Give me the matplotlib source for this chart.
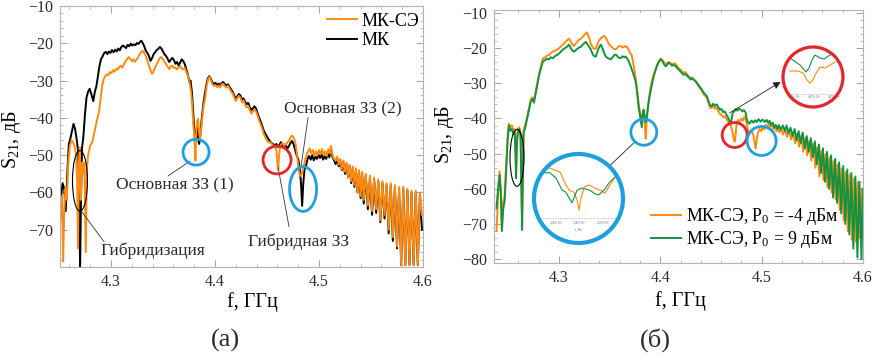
import matplotlib
matplotlib.use("Agg")
import matplotlib.pyplot as plt
from matplotlib.patches import Ellipse, Circle

plt.rcParams['font.family'] = ['Liberation Serif', 'DejaVu Serif']
plt.rcParams['mathtext.fontset'] = 'custom'
plt.rcParams['mathtext.rm'] = 'Liberation Serif'
plt.rcParams['mathtext.it'] = 'Liberation Serif:italic'

ORANGE = '#ff8a10'
GREEN = '#13923f'
BLUE = '#1da0dd'
RED = '#e2262a'

# ---------------- panel (a): MK and MK-SE ----------------
mk_f = [4.2520, 4.2535, 4.2550, 4.2565, 4.2580, 4.2595, 4.2610, 4.2625, 4.2640, 4.2655,
        4.2670, 4.2685, 4.2695, 4.2703, 4.2712, 4.2722, 4.2735, 4.2750, 4.2765, 4.2780,
        4.2795, 4.2810, 4.2830, 4.2845, 4.2860, 4.2875, 4.2890, 4.2905, 4.2920, 4.2935,
        4.2950, 4.2965, 4.2980, 4.2995, 4.3010, 4.3025, 4.3040, 4.3055, 4.3070, 4.3085,
        4.3100, 4.3115, 4.3130, 4.3145, 4.3160, 4.3175, 4.3190, 4.3205, 4.3220, 4.3235,
        4.3250, 4.3265, 4.3280, 4.3292, 4.3305, 4.3320, 4.3335, 4.3350, 4.3365, 4.3380,
        4.3395, 4.3410, 4.3425, 4.3440, 4.3455, 4.3470, 4.3485, 4.3500, 4.3515, 4.3530,
        4.3545, 4.3560, 4.3575, 4.3590, 4.3605, 4.3620, 4.3635, 4.3650, 4.3665, 4.3680,
        4.3695, 4.3710, 4.3725, 4.3740, 4.3755, 4.3765, 4.3778, 4.3790, 4.3800, 4.3810,
        4.3820, 4.3828, 4.3838, 4.3848, 4.3858, 4.3870, 4.3885, 4.3900, 4.3915, 4.3930,
        4.3945, 4.3960, 4.3975, 4.3990, 4.4005, 4.4020, 4.4035, 4.4050, 4.4065, 4.4080,
        4.4095, 4.4110, 4.4125, 4.4140, 4.4155, 4.4170, 4.4185, 4.4200, 4.4215, 4.4230,
        4.4245, 4.4260, 4.4275, 4.4290, 4.4305, 4.4320, 4.4335, 4.4350, 4.4365, 4.4380,
        4.4395, 4.4410, 4.4425, 4.4440, 4.4455, 4.4470, 4.4485, 4.4500, 4.4515, 4.4530,
        4.4545, 4.4560, 4.4575, 4.4590, 4.4605, 4.4620, 4.4635, 4.4650, 4.4665, 4.4680,
        4.4695, 4.4710, 4.4725, 4.4740, 4.4755, 4.4770, 4.4785, 4.4800, 4.4815, 4.4828,
        4.4838, 4.4848, 4.4860, 4.4875, 4.4890, 4.4905, 4.4920, 4.4935, 4.4950, 4.4965,
        4.4980, 4.4995, 4.5010, 4.5025, 4.5040, 4.5055, 4.5070, 4.5085, 4.5100, 4.5115,
        4.5130, 4.5145, 4.5160, 4.5175, 4.5190, 4.5205, 4.5220, 4.5235, 4.5250, 4.5265,
        4.5280, 4.5295, 4.5310, 4.5325, 4.5340, 4.5355, 4.5370, 4.5385, 4.5400, 4.5415,
        4.5430, 4.5450, 4.5470, 4.5490, 4.5510, 4.5530, 4.5550, 4.5570, 4.5590, 4.5610,
        4.5630, 4.5650, 4.5670, 4.5690, 4.5710, 4.5730, 4.5750, 4.5770, 4.5790, 4.5810,
        4.5830, 4.5850, 4.5870, 4.5890, 4.5910, 4.5930, 4.5950, 4.5970, 4.5990]
mk_db = [-61.0, -57.5, -59.0, -65.0, -55.0, -47.0, -45.5, -43.5, -41.6, -43.0,
         -45.7, -49.0, -62.0, -80.5, -62.0, -48.0, -45.0, -39.0, -34.5, -33.0,
         -32.2, -33.5, -35.5, -33.0, -31.5, -28.8, -26.0, -24.2, -23.5, -22.6,
         -22.3, -22.9, -22.2, -22.6, -21.8, -22.4, -21.7, -22.2, -21.4, -21.9,
         -21.0, -20.6, -20.9, -21.3, -20.4, -20.8, -20.1, -20.6, -20.3, -20.5,
         -19.9, -20.2, -19.6, -19.3, -19.9, -20.8, -22.0, -22.6, -23.4, -24.7,
         -24.0, -22.9, -22.4, -21.8, -21.5, -21.0, -21.4, -22.2, -23.0, -23.4,
         -24.2, -25.0, -24.4, -23.9, -24.5, -25.5, -25.0, -26.0, -25.2, -24.3,
         -24.8, -25.6, -27.0, -28.5, -30.4, -30.0, -33.0, -38.0, -43.0, -46.0,
         -44.0, -42.0, -45.7, -47.0, -45.0, -41.0, -37.0, -34.0, -31.5, -29.5,
         -28.8, -29.5, -30.5, -31.0, -30.6, -31.3, -30.8, -31.4, -30.6, -30.4,
         -31.0, -31.4, -31.0, -31.7, -32.4, -33.0, -34.0, -35.0, -34.2, -33.6,
         -34.0, -35.2, -34.8, -35.7, -36.3, -36.0, -37.2, -38.0, -37.4, -36.9,
         -37.5, -38.8, -40.0, -41.0, -42.2, -43.5, -44.3, -45.0, -45.8, -46.3,
         -46.8, -47.0, -47.6, -47.0, -47.8, -47.2, -46.5, -47.5, -48.0, -47.2,
         -48.3, -47.6, -46.8, -46.2, -47.0, -48.5, -50.0, -51.0, -53.5, -58.0,
         -63.6, -58.0, -54.0, -52.9, -51.0, -50.2, -51.2, -50.0, -51.4, -50.4,
         -51.0, -49.8, -50.8, -49.7, -51.2, -50.3, -51.0, -49.5, -50.6, -48.3,
         -50.5, -51.4, -52.4, -51.0, -53.0, -51.8, -54.0, -52.0, -55.0, -52.5,
         -56.0, -53.0, -57.5, -53.5, -58.5, -54.0, -60.0, -54.5, -61.5, -55.0,
         -63.0, -55.5, -64.5, -56.0, -66.0, -56.5, -65.5, -57.0, -68.0, -57.5,
         -67.0, -58.0, -71.0, -58.0, -73.0, -58.5, -75.0, -59.0, -79.5, -59.0,
         -79.5, -59.5, -79.5, -60.0, -79.5, -60.0, -79.5, -60.5, -70.0]

mkse_f = [4.2520, 4.2530, 4.2540, 4.2550, 4.2562, 4.2575, 4.2590, 4.2605, 4.2620, 4.2635,
          4.2650, 4.2665, 4.2675, 4.2683, 4.2692, 4.2700, 4.2710, 4.2720, 4.2730, 4.2745,
          4.2758, 4.2768, 4.2780, 4.2800, 4.2820, 4.2840, 4.2855, 4.2870, 4.2885, 4.2900,
          4.2915, 4.2930, 4.2945, 4.2960, 4.2975, 4.2990, 4.3005, 4.3020, 4.3035, 4.3050,
          4.3065, 4.3080, 4.3095, 4.3110, 4.3125, 4.3140, 4.3155, 4.3170, 4.3185, 4.3200,
          4.3215, 4.3230, 4.3245, 4.3260, 4.3275, 4.3290, 4.3305, 4.3320, 4.3335, 4.3350,
          4.3365, 4.3380, 4.3395, 4.3410, 4.3425, 4.3440, 4.3455, 4.3470, 4.3485, 4.3500,
          4.3515, 4.3530, 4.3545, 4.3560, 4.3575, 4.3590, 4.3605, 4.3620, 4.3635, 4.3650,
          4.3665, 4.3680, 4.3695, 4.3710, 4.3725, 4.3740, 4.3755, 4.3768, 4.3780, 4.3792,
          4.3802, 4.3812, 4.3820, 4.3828, 4.3836, 4.3846, 4.3856, 4.3866, 4.3878, 4.3890,
          4.3905, 4.3920, 4.3935, 4.3948, 4.3962, 4.3975, 4.3990, 4.4005, 4.4020, 4.4035,
          4.4050, 4.4065, 4.4080, 4.4095, 4.4110, 4.4125, 4.4140, 4.4155, 4.4170, 4.4185,
          4.4200, 4.4215, 4.4230, 4.4245, 4.4260, 4.4275, 4.4290, 4.4305, 4.4320, 4.4335,
          4.4350, 4.4365, 4.4380, 4.4395, 4.4410, 4.4425, 4.4440, 4.4455, 4.4470, 4.4485,
          4.4500, 4.4515, 4.4530, 4.4545, 4.4560, 4.4575, 4.4590, 4.4600, 4.4608, 4.4616,
          4.4625, 4.4640, 4.4655, 4.4670, 4.4685, 4.4700, 4.4715, 4.4730, 4.4745, 4.4760,
          4.4775, 4.4790, 4.4805, 4.4820, 4.4835, 4.4850, 4.4865, 4.4880, 4.4895, 4.4910,
          4.4925, 4.4940, 4.4955, 4.4970, 4.4985, 4.5000, 4.5015, 4.5030, 4.5045, 4.5060,
          4.5075, 4.5090, 4.5105, 4.5115, 4.5130, 4.5145, 4.5160, 4.5175, 4.5190, 4.5205,
          4.5220, 4.5235, 4.5250, 4.5265, 4.5280, 4.5295, 4.5310, 4.5325, 4.5340, 4.5355,
          4.5370, 4.5385, 4.5400, 4.5415, 4.5430, 4.5450, 4.5470, 4.5490, 4.5510, 4.5530,
          4.5550, 4.5570, 4.5590, 4.5610, 4.5630, 4.5650, 4.5670, 4.5690, 4.5710, 4.5730,
          4.5750, 4.5770, 4.5790, 4.5810, 4.5830, 4.5850, 4.5870, 4.5890, 4.5910, 4.5930,
          4.5950, 4.5970, 4.5990]
mkse_db = [-67.0, -61.0, -78.5, -66.0, -59.0, -62.0, -52.0, -47.5, -46.0, -46.5,
           -47.5, -50.0, -57.0, -75.0, -52.0, -48.0, -62.0, -52.0, -55.0, -52.0,
           -76.0, -54.0, -50.0, -47.5, -46.5, -44.0, -42.0, -40.0, -38.4, -35.0,
           -31.5, -29.6, -28.8, -28.3, -28.6, -27.7, -28.0, -27.2, -27.6, -26.8,
           -27.1, -26.4, -26.0, -26.5, -25.6, -24.8, -24.2, -23.7, -24.2, -24.8,
           -24.3, -25.0, -24.4, -23.8, -23.0, -22.3, -22.0, -22.6, -23.4, -24.6,
           -26.0, -27.2, -28.2, -27.5, -26.4, -25.6, -24.8, -23.9, -23.7, -24.3,
           -25.0, -25.6, -26.3, -26.9, -26.2, -26.0, -26.7, -26.5, -27.0, -26.5,
           -26.1, -26.8, -27.0, -26.6, -27.7, -28.8, -30.5, -32.6, -36.0, -42.0,
           -45.0, -51.5, -44.0, -41.0, -40.3, -43.0, -45.7, -43.0, -40.0, -37.0,
           -34.8, -31.5, -29.6, -29.0, -30.0, -31.0, -31.4, -31.2, -31.8, -31.3,
           -31.9, -31.0, -30.9, -31.5, -31.9, -31.4, -32.2, -32.9, -33.5, -34.5,
           -35.5, -34.7, -34.1, -34.6, -35.8, -35.3, -36.5, -37.2, -36.8, -38.0,
           -38.9, -38.2, -37.8, -38.3, -39.5, -40.8, -41.8, -43.0, -44.4, -45.3,
           -46.0, -46.6, -46.5, -46.9, -47.4, -47.8, -48.5, -52.0, -54.0, -50.0,
           -47.8, -47.0, -46.8, -47.5, -47.0, -46.5, -46.0, -45.0, -44.8, -45.5,
           -47.0, -50.0, -54.0, -55.6, -55.0, -53.5, -51.5, -50.0, -49.0, -48.2,
           -49.5, -48.6, -50.2, -49.0, -50.0, -48.6, -49.8, -48.4, -50.0, -49.0,
           -50.2, -48.4, -49.6, -47.5, -50.0, -51.0, -51.5, -50.4, -52.6, -51.0,
           -53.8, -51.4, -54.5, -52.0, -56.0, -52.5, -57.0, -53.0, -58.0, -53.5,
           -60.0, -54.0, -61.0, -54.5, -62.0, -55.0, -63.5, -55.5, -65.0, -56.0,
           -64.5, -56.5, -67.5, -57.0, -66.0, -57.5, -70.0, -57.5, -72.0, -58.0,
           -74.5, -58.5, -79.5, -58.5, -79.5, -59.0, -79.5, -59.5, -79.5, -59.5,
           -79.5, -60.0, -66.0]

# ---------------- panel (б): MK-SE at two powers ----------------
p9_f = [4.2385, 4.2400, 4.2415, 4.2428, 4.2438, 4.2450, 4.2465, 4.2480, 4.2495, 4.2507,
        4.2520, 4.2537, 4.2552, 4.2565, 4.2572, 4.2578, 4.2585, 4.2595, 4.2610, 4.2622,
        4.2630, 4.2637, 4.2645, 4.2652, 4.2665, 4.2680, 4.2695, 4.2710, 4.2724, 4.2740,
        4.2754, 4.2770, 4.2785, 4.2803, 4.2820, 4.2842, 4.2860, 4.2880, 4.2901, 4.2920,
        4.2940, 4.2960, 4.2990, 4.3010, 4.3039, 4.3060, 4.3080, 4.3099, 4.3115, 4.3130,
        4.3148, 4.3165, 4.3185, 4.3200, 4.3217, 4.3235, 4.3250, 4.3266, 4.3280, 4.3298,
        4.3315, 4.3330, 4.3345, 4.3365, 4.3380, 4.3395, 4.3414, 4.3430, 4.3445, 4.3463,
        4.3480, 4.3495, 4.3512, 4.3530, 4.3545, 4.3562, 4.3580, 4.3595, 4.3611, 4.3628,
        4.3645, 4.3660, 4.3675, 4.3690, 4.3709, 4.3725, 4.3740, 4.3759, 4.3770, 4.3780,
        4.3790, 4.3800, 4.3810, 4.3818, 4.3826, 4.3835, 4.3845, 4.3855, 4.3865, 4.3877,
        4.3890, 4.3906, 4.3920, 4.3935, 4.3956, 4.3975, 4.3990, 4.4005, 4.4020, 4.4035,
        4.4054, 4.4070, 4.4084, 4.4100, 4.4118, 4.4135, 4.4153, 4.4170, 4.4190, 4.4212,
        4.4230, 4.4250, 4.4265, 4.4281, 4.4300, 4.4315, 4.4335, 4.4350, 4.4370, 4.4390,
        4.4409, 4.4425, 4.4440, 4.4458, 4.4475, 4.4492, 4.4507, 4.4522, 4.4540, 4.4557,
        4.4575, 4.4590, 4.4606, 4.4620, 4.4635, 4.4650, 4.4665, 4.4680, 4.4695, 4.4705,
        4.4715, 4.4730, 4.4745, 4.4760, 4.4775, 4.4793, 4.4810, 4.4825, 4.4842, 4.4852,
        4.4862, 4.4880, 4.4900, 4.4920, 4.4935, 4.4951, 4.4970, 4.4990, 4.5010, 4.5030,
        4.5050, 4.5065, 4.5079, 4.5095, 4.5110, 4.5125, 4.5140, 4.5155, 4.5170, 4.5190,
        4.5210, 4.5230, 4.5246, 4.5265, 4.5285, 4.5305, 4.5325, 4.5345, 4.5365, 4.5385,
        4.5405, 4.5425, 4.5445, 4.5465, 4.5485, 4.5505, 4.5525, 4.5545, 4.5565, 4.5585,
        4.5605, 4.5625, 4.5645, 4.5665, 4.5685, 4.5705, 4.5725, 4.5745, 4.5765, 4.5785,
        4.5805, 4.5825, 4.5845, 4.5865, 4.5885, 4.5905, 4.5925, 4.5945, 4.5965, 4.5985,
        4.6000]
p9_db = [-65.5, -60.0, -56.0, -62.0, -72.0, -66.0, -63.5, -55.0, -46.0, -42.0,
         -43.5, -43.0, -44.5, -44.0, -50.0, -57.0, -48.0, -44.0, -43.0, -45.0,
         -60.0, -71.7, -55.0, -44.0, -43.0, -41.0, -39.0, -37.0, -35.0, -34.5,
         -35.5, -33.0, -30.5, -28.0, -26.0, -23.8, -23.5, -23.0, -23.2, -22.6,
         -22.9, -22.3, -21.8, -21.3, -20.4, -20.0, -19.6, -19.0, -19.8, -20.6,
         -21.0, -20.6, -20.1, -19.8, -19.6, -19.0, -18.6, -18.2, -18.8, -19.6,
         -20.4, -21.5, -22.2, -22.4, -21.0, -19.8, -19.0, -20.0, -21.3, -22.4,
         -22.8, -23.0, -23.2, -22.6, -22.0, -21.8, -22.4, -22.8, -22.8, -22.3,
         -22.6, -22.4, -23.0, -23.8, -25.2, -26.5, -27.8, -29.7, -32.0, -35.0,
         -37.5, -39.0, -41.0, -42.5, -39.0, -37.5, -39.0, -41.0, -40.0, -37.2,
         -34.5, -32.0, -30.0, -28.0, -26.0, -24.5, -23.8, -23.2, -23.6, -24.5,
         -25.2, -24.6, -24.1, -24.5, -25.0, -24.7, -25.2, -25.8, -26.3, -27.0,
         -27.6, -27.3, -27.9, -28.3, -28.9, -28.6, -29.1, -29.4, -30.2, -31.0,
         -31.7, -32.5, -33.0, -33.6, -35.0, -36.3, -36.5, -35.8, -36.4, -36.0,
         -36.9, -37.5, -37.3, -38.2, -38.0, -38.8, -39.5, -40.5, -41.5, -40.0,
         -38.3, -38.0, -37.3, -37.8, -37.2, -37.5, -38.0, -37.6, -38.3, -40.0,
         -41.0, -41.5, -40.6, -41.2, -40.5, -41.0, -40.2, -40.9, -40.3, -41.0,
         -40.4, -41.2, -40.7, -41.8, -41.2, -42.6, -41.8, -43.0, -41.9, -43.2,
         -42.0, -43.6, -42.0, -44.2, -42.6, -45.0, -43.0, -46.2, -43.6, -47.0,
         -44.0, -48.5, -45.0, -49.5, -45.6, -51.0, -46.5, -53.0, -47.4, -55.5,
         -48.5, -58.0, -49.5, -60.0, -50.5, -62.5, -51.5, -64.0, -52.5, -67.0,
         -53.5, -70.0, -54.5, -73.0, -55.5, -77.0, -56.5, -79.5, -58.0, -80.0,
         -60.0]

m4_f = [4.2385, 4.2400, 4.2415, 4.2428, 4.2438, 4.2450, 4.2465, 4.2480, 4.2495, 4.2507,
        4.2520, 4.2537, 4.2552, 4.2565, 4.2572, 4.2578, 4.2585, 4.2595, 4.2610, 4.2622,
        4.2630, 4.2637, 4.2645, 4.2652, 4.2665, 4.2680, 4.2695, 4.2710, 4.2724, 4.2740,
        4.2754, 4.2770, 4.2785, 4.2803, 4.2820, 4.2842, 4.2860, 4.2880, 4.2901, 4.2920,
        4.2940, 4.2960, 4.2990, 4.3010, 4.3039, 4.3060, 4.3080, 4.3099, 4.3115, 4.3130,
        4.3148, 4.3165, 4.3185, 4.3200, 4.3217, 4.3235, 4.3250, 4.3265, 4.3276, 4.3290,
        4.3305, 4.3315, 4.3330, 4.3345, 4.3365, 4.3380, 4.3395, 4.3414, 4.3430, 4.3446,
        4.3463, 4.3480, 4.3495, 4.3512, 4.3530, 4.3545, 4.3562, 4.3580, 4.3595, 4.3611,
        4.3628, 4.3645, 4.3660, 4.3675, 4.3690, 4.3705, 4.3719, 4.3735, 4.3748, 4.3759,
        4.3770, 4.3780, 4.3790, 4.3800, 4.3810, 4.3818, 4.3826, 4.3835, 4.3843, 4.3850,
        4.3857, 4.3864, 4.3877, 4.3890, 4.3906, 4.3920, 4.3935, 4.3956, 4.3975, 4.3990,
        4.4005, 4.4020, 4.4035, 4.4054, 4.4070, 4.4084, 4.4100, 4.4118, 4.4135, 4.4153,
        4.4170, 4.4190, 4.4212, 4.4230, 4.4250, 4.4265, 4.4281, 4.4300, 4.4315, 4.4335,
        4.4350, 4.4370, 4.4390, 4.4409, 4.4425, 4.4440, 4.4458, 4.4475, 4.4492, 4.4507,
        4.4522, 4.4540, 4.4557, 4.4575, 4.4590, 4.4606, 4.4620, 4.4635, 4.4650, 4.4665,
        4.4680, 4.4695, 4.4710, 4.4722, 4.4734, 4.4745, 4.4755, 4.4770, 4.4785, 4.4800,
        4.4815, 4.4830, 4.4845, 4.4860, 4.4875, 4.4890, 4.4905, 4.4920, 4.4932, 4.4941,
        4.4952, 4.4965, 4.4980, 4.4995, 4.5010, 4.5025, 4.5040, 4.5055, 4.5070, 4.5085,
        4.5100, 4.5115, 4.5130, 4.5145, 4.5160, 4.5175, 4.5190, 4.5210, 4.5230, 4.5250,
        4.5270, 4.5290, 4.5310, 4.5330, 4.5350, 4.5370, 4.5390, 4.5410, 4.5430, 4.5450,
        4.5470, 4.5490, 4.5510, 4.5530, 4.5550, 4.5570, 4.5590, 4.5610, 4.5630, 4.5650,
        4.5670, 4.5690, 4.5710, 4.5730, 4.5750, 4.5770, 4.5790, 4.5810, 4.5830, 4.5850,
        4.5870, 4.5890, 4.5910, 4.5930, 4.5950, 4.5970, 4.5990]
m4_db = [-72.0, -62.0, -55.0, -60.0, -70.0, -64.0, -62.0, -53.0, -45.0, -41.5,
         -42.5, -42.0, -43.5, -43.0, -48.0, -55.0, -47.0, -43.0, -42.5, -44.0,
         -58.0, -70.0, -54.0, -43.5, -42.0, -40.5, -38.5, -36.5, -34.5, -34.0,
         -35.0, -32.5, -30.0, -27.5, -25.5, -23.0, -22.6, -22.2, -22.0, -21.4,
         -21.0, -20.7, -20.3, -19.8, -19.0, -18.4, -17.8, -17.3, -18.0, -18.9,
         -19.4, -18.8, -18.0, -17.6, -17.3, -16.8, -16.3, -15.8, -15.5, -16.4,
         -17.6, -18.8, -19.6, -20.2, -20.1, -18.8, -17.8, -17.2, -16.8, -16.5,
         -17.0, -18.0, -18.9, -19.4, -19.9, -20.3, -20.3, -19.8, -19.4, -19.4,
         -19.8, -19.6, -19.4, -19.8, -20.6, -21.5, -22.0, -24.5, -26.8, -28.8,
         -31.5, -34.0, -36.5, -38.0, -40.0, -41.0, -38.5, -38.0, -40.0, -43.0,
         -45.8, -41.5, -37.0, -34.0, -31.0, -29.0, -27.5, -26.0, -24.3, -23.5,
         -23.0, -23.4, -24.0, -24.5, -24.2, -24.0, -24.3, -24.7, -24.3, -24.5,
         -25.3, -25.9, -26.5, -27.0, -26.8, -27.5, -28.0, -28.6, -28.3, -29.0,
         -29.5, -30.5, -31.4, -32.0, -33.0, -33.5, -34.0, -35.5, -37.0, -37.0,
         -36.5, -37.2, -37.0, -38.0, -38.8, -39.0, -39.6, -39.4, -40.0, -40.6,
         -41.2, -42.0, -43.5, -45.5, -46.6, -44.0, -41.0, -40.4, -41.0, -40.0,
         -40.6, -39.5, -40.5, -42.5, -43.8, -44.0, -43.5, -45.0, -47.0, -48.6,
         -46.0, -44.0, -43.0, -43.6, -42.5, -43.2, -41.8, -42.6, -41.4, -42.4,
         -41.6, -43.0, -42.0, -43.6, -42.4, -44.0, -42.6, -44.6, -43.0, -45.2,
         -43.4, -46.0, -44.0, -47.0, -44.4, -48.0, -45.0, -49.5, -45.6, -50.5,
         -46.4, -52.0, -47.2, -54.0, -48.2, -56.5, -49.2, -57.5, -50.2, -59.5,
         -51.2, -61.0, -52.2, -63.0, -53.2, -66.0, -54.2, -69.0, -55.2, -72.0,
         -56.0, -74.5, -57.0, -75.0, -58.0, -74.0, -60.0]

# zoomed detail near 4.385 GHz (blue inset)
zb_f = [4.3764, 4.3787, 4.3809, 4.3821, 4.3828, 4.3838, 4.3845, 4.3849, 4.3853, 4.3860,
        4.3870, 4.3883, 4.3894, 4.3904, 4.3915, 4.3926]
zb_m4 = [-38.0, -38.2, -39.0, -41.4, -42.4, -42.8, -44.3, -46.2, -44.0, -41.8,
         -41.4, -42.0, -42.4, -43.0, -41.4, -39.9]
zb9_f = [4.3764, 4.3787, 4.3800, 4.3813, 4.3821, 4.3834, 4.3845, 4.3855, 4.3872, 4.3883,
         4.3891, 4.3902, 4.3913, 4.3926]
zb_p9 = [-39.1, -39.1, -40.1, -42.4, -42.8, -44.8, -42.4, -42.0, -42.4, -43.1,
         -43.3, -42.4, -41.0, -39.9]

# zoomed detail near 4.47 GHz (red inset)
zr9_f = [4.4654, 4.4674, 4.4686, 4.4692, 4.4698, 4.4704, 4.4714, 4.4722, 4.4734, 4.4744]
zr_p9 = [-38.2, -39.6, -41.0, -40.2, -38.6, -37.6, -38.2, -38.4, -37.6, -37.2]
zr4_f = [4.4654, 4.4670, 4.4680, 4.4688, 4.4694, 4.4700, 4.4704, 4.4714, 4.4724, 4.4734, 4.4744]
zr_m4 = [-40.8, -40.8, -41.2, -42.6, -43.2, -42.6, -41.6, -40.0, -40.2, -39.6, -39.0]

W, H = 872, 356
fig = plt.figure(figsize=(W / 100, H / 100), dpi=100)


def style_axes(ax, yticks):
    for s in ax.spines.values():
        s.set_color('#b3b3b3')
        s.set_linewidth(0.8)
    ax.set_xticks([4.3, 4.4, 4.5, 4.6])
    ax.set_xticklabels(['4.3', '4.4', '4.5', '4.6'])
    ax.set_xticks([4.26, 4.28, 4.32, 4.34, 4.36, 4.38, 4.42, 4.44, 4.46, 4.48,
                   4.52, 4.54, 4.56, 4.58], minor=True)
    ax.set_yticks(yticks)
    ax.set_yticks(range(-80, -9, 2), minor=True)
    ax.tick_params(which='both', direction='in', top=True, right=True,
                   color='#a0a0a0', labelsize=11.5, labelcolor='#2a2a2a')
    ax.tick_params(which='major', length=5, width=0.7, pad=5)
    ax.tick_params(which='minor', length=2.5, width=0.5)


# ---------------- (a) ----------------
ax1 = fig.add_axes([60 / W, 1 - 267 / H, 363 / W, 261 / H])
l_mk, = ax1.plot(mk_f, mk_db, color='black', lw=1.4, label='МК')
l_se, = ax1.plot(mkse_f, mkse_db, color=ORANGE, lw=1.4, label='МК-СЭ')
ax1.set_xlim(4.251, 4.6)
ax1.set_ylim(-79.6, -10)
style_axes(ax1, [-70, -60, -50, -40, -30, -20, -10])
ax1.set_xlabel('f, ГГц', fontsize=14.5)
ax1.xaxis.set_label_coords(0.529, -0.096)
ax1.set_ylabel(r'S$_{\mathrm{21}}$, дБ', fontsize=14.5)
ax1.yaxis.set_label_coords(-0.103, 0.487)
ax1.legend(handles=[l_se, l_mk], loc='upper left', bbox_to_anchor=(0.735, 0.975),
           frameon=False, fontsize=13, handlelength=1.65, handletextpad=0.3,
           labelspacing=0.15, borderpad=0, borderaxespad=0)

ax1.add_patch(Ellipse((4.2702, -56.9), 0.0144, 16.3, fill=False, ec='black', lw=0.8, zorder=5))
ax1.add_patch(Ellipse((4.3818, -49.2), 0.025, 6.93, fill=False, ec=BLUE, lw=2.0, zorder=5))
ax1.add_patch(Ellipse((4.4597, -51.3), 0.0269, 7.47, fill=False, ec=RED, lw=2.0, zorder=5))
ax1.add_patch(Ellipse((4.4847, -59.1), 0.026, 12.0, fill=False, ec=BLUE, lw=2.0, zorder=5))

lead = dict(arrowstyle='-', color='#333333', lw=0.6, shrinkA=0, shrinkB=0)
ax1.text(4.3616, -58.0, 'Основная ЗЗ (1)', fontsize=12.5, ha='center', va='center', color='#2a2a2a')
ax1.annotate('', xy=(4.376, -51.6), xytext=(4.3548, -55.6), arrowprops=lead)
ax1.text(4.3404, -75.6, 'Гибридизация', fontsize=12.5, ha='center', va='center', color='#2a2a2a')
ax1.annotate('', xy=(4.2712, -64.9), xytext=(4.2933, -73.2), arrowprops=lead)
ax1.text(4.5231, -37.7, 'Основная ЗЗ (2)', fontsize=12.5, ha='center', va='center', color='#2a2a2a')
ax1.annotate('', xy=(4.4827, -53.2), xytext=(4.4895, -39.9), arrowprops=lead)
ax1.text(4.4799, -73.2, 'Гибридная ЗЗ', fontsize=12.5, ha='center', va='center', color='#2a2a2a')
ax1.annotate('', xy=(4.4606, -53.2), xytext=(4.4712, -69.2), arrowprops=lead)

# ---------------- (б) ----------------
ax2 = fig.add_axes([494 / W, 1 - 263 / H, 369 / W, 253 / H])
l_m4, = ax2.plot(m4_f, m4_db, color=ORANGE, lw=1.4, label=r'МК-СЭ, P$_{\mathrm{0}}$ = -4 дБм')
l_p9, = ax2.plot(p9_f, p9_db, color=GREEN, lw=1.4, label=r'МК-СЭ, P$_{\mathrm{0}}$ = 9 дБм')
ax2.set_xlim(4.236, 4.6)
ax2.set_ylim(-81.1, -9.15)
style_axes(ax2, [-80, -70, -60, -50, -40, -30, -20, -10])
ax2.set_xlabel('f, ГГц', fontsize=14.5)
ax2.xaxis.set_label_coords(0.504, -0.111)
ax2.set_ylabel(r'S$_{\mathrm{21}}$, дБ', fontsize=14.5)
ax2.yaxis.set_label_coords(-0.103, 0.506)
ax2.legend(handles=[l_m4, l_p9], loc='upper left', bbox_to_anchor=(0.425, 0.225),
           frameon=False, fontsize=12.8, handlelength=1.7, handletextpad=0.3,
           labelspacing=0.1, borderpad=0, borderaxespad=0)

ax2.add_patch(Ellipse((4.2587, -51.2), 0.0138, 16.2, fill=False, ec='black', lw=0.8, zorder=5))
ax2.add_patch(Ellipse((4.3838, -43.9), 0.0256, 7.4, fill=False, ec=BLUE, lw=2.0, zorder=5))
ax2.add_patch(Ellipse((4.4734, -44.7), 0.0246, 7.1, fill=False, ec=RED, lw=2.0, zorder=5))
ax2.add_patch(Ellipse((4.5000, -46.4), 0.0286, 8.25, fill=False, ec=BLUE, lw=2.0, zorder=5))
arr = dict(arrowstyle='-|>', color='#222222', lw=0.6, mutation_scale=11, shrinkA=0, shrinkB=0)
ax2.annotate('', xy=(4.3394, -56.4), xytext=(4.3759, -46.4), arrowprops=arr)
ax2.annotate('', xy=(4.5188, -29.6), xytext=(4.4685, -38.4), arrowprops=arr)


def circle_inset(box, xlim, ylim, series, edge, lw_edge, axis_y, labels, label_y, fx_y):
    axi = fig.add_axes([box[0] / W, 1 - box[3] / H, (box[2] - box[0]) / W, (box[3] - box[1]) / H])
    axi.set_xlim(*xlim)
    axi.set_ylim(*ylim)
    axi.set_axis_off()
    clip = Circle((0.5, 0.5), 0.5, transform=axi.transAxes)
    axi.add_patch(Circle((0.5, 0.5), 0.5, transform=axi.transAxes, fc='white', ec='none', zorder=0))
    for xs, ys, c in series:
        ln, = axi.plot(xs, ys, color=c, lw=0.8)
        ln.set_clip_path(clip)
    hl = axi.hlines(axis_y, xlim[0] + 0.1 * (xlim[1] - xlim[0]), xlim[1] - 0.07 * (xlim[1] - xlim[0]),
                    colors='#888888', lw=0.5, linestyles=':')
    hl.set_clip_path(clip)
    for x, t in labels:
        axi.text(x, label_y, t, fontsize=2.2, ha='center', va='center', color='#666666')
    if fx_y is not None:
        axi.text(sum(xlim) / 2, fx_y, 'f, Hz', fontsize=2.4, ha='center', va='center', color='#666666')
    axi.add_patch(Circle((0.5, 0.5), 0.5, transform=axi.transAxes, fill=False, ec=edge,
                         lw=lw_edge, clip_on=False, zorder=10))
    return axi


circle_inset((534, 154, 623, 243), (4.37532, 4.39426), (-52.44, -35.53),
             [(zb_f, zb_m4, ORANGE), (zb9_f, zb_p9, GREEN)], BLUE, 3.0, -47.7,
             [(4.380, r'4.380$\times$10$^9$'), (4.385, r'4.385$\times$10$^9$'),
              (4.390, r'4.390$\times$10$^9$')], -48.6, -50.0)
circle_inset((783, 47, 843, 107), (4.464, 4.476), (-48.0, -36.0),
             [(zr4_f, zr_m4, ORANGE), (zr9_f, zr_p9, GREEN)], RED, 2.3, -45.4,
             [(4.4662, '4.466×10⁹'), (4.4702, '4.470×10⁹'), (4.4742, '4.474×10⁹')],
             -45.9, None)

fig.text(225 / W, 1 - 340 / H, '(а)', fontsize=19, ha='center', va='center', color='#2a2a2a')
fig.text(655 / W, 1 - 340 / H, '(б)', fontsize=19, ha='center', va='center', color='#2a2a2a')

fig.savefig('out.png', dpi=100)
